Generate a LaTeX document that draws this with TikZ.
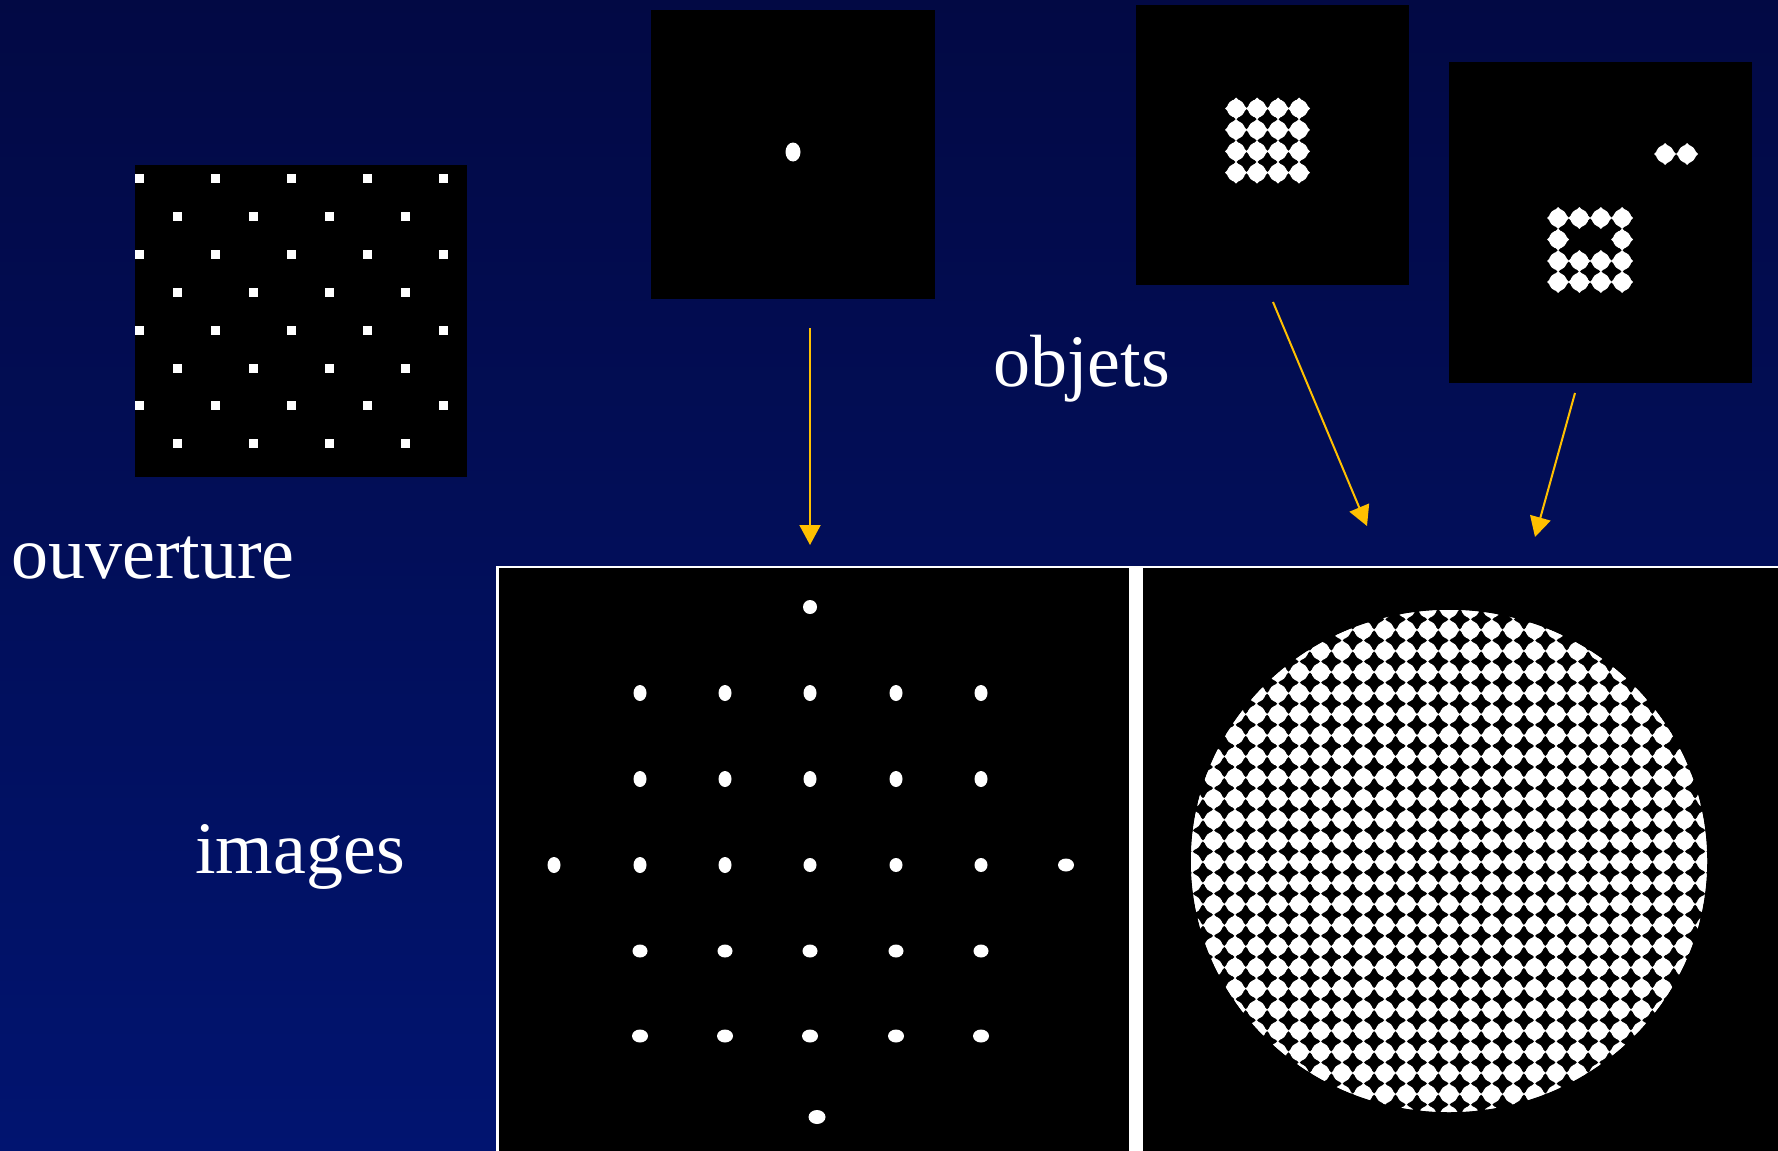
\documentclass[tikz,border=0pt]{standalone}
\usepackage{fontspec}
\setmainfont{Liberation Serif}
\usetikzlibrary{arrows.meta}
\definecolor{bgtop}{RGB}{2,9,68}
\definecolor{bgbot}{RGB}{1,20,112}
\definecolor{arrowgold}{RGB}{255,192,0}
\tikzset{
  imgbox/.style={fill=black, draw=none, inner sep=0pt, outer sep=0pt, anchor=north west},
  lbl/.style={text=white, inner sep=0pt, anchor=base west, font=\fontsize{74}{88}\selectfont},
  conn/.style={draw=arrowgold, line width=2pt, -{Triangle[length=20pt,width=21pt]}},
  blob/.pic={
    \fill[white] (0,0) circle[radius=9];
    \fill[white] (-11,0) -- (0,-11) -- (11,0) -- (0,11) -- cycle;
  }
}
\begin{document}
\begin{tikzpicture}[x=1pt,y=-1pt]
\useasboundingbox (0,0) rectangle (1778,1151);
\shade[top color=bgtop, bottom color=bgbot] (0,0) rectangle (1778,1151);

% aperture
\node[imgbox, minimum width=332pt, minimum height=312pt] (ap) at (135,165) {};
\foreach \r in {0,2,4,6} {
  \foreach \c in {0,...,4} {
    \fill[white] ({139.5+76*\c-4.5},{178.5+37.9*\r-4.5}) rectangle ++(9,9);
  }
}
\foreach \r in {1,3,5,7} {
  \foreach \c in {0,...,3} {
    \fill[white] ({177+76*\c-4.5},{178.5+37.9*\r-4.5}) rectangle ++(9,9);
  }
}

% object 1: point
\node[imgbox, minimum width=284pt, minimum height=289pt] (ob1) at (651,10) {};
\fill[white] (793,152) ellipse[x radius=7.5, y radius=9.5];

% object 2: 4x4 square
\node[imgbox, minimum width=273pt, minimum height=280pt] (ob2) at (1136,5) {};
\foreach \i in {0,...,3} {
  \foreach \j in {0,...,3} {
    \pic at ({1236+21*\i},{108.5+21.4*\j}) {blob};
  }
}

% object 3: square with hole + pair
\node[imgbox, minimum width=303pt, minimum height=321pt] (ob3) at (1449,62) {};
\pic at (1665,154) {blob};
\pic at (1687,154) {blob};
\foreach \i in {0,...,3} {
  \pic at ({1558+21.4*\i},218) {blob};
  \pic at ({1558+21.4*\i},261) {blob};
  \pic at ({1558+21.4*\i},282) {blob};
}
\pic at (1558,239.5) {blob};
\pic at (1622,239.5) {blob};

% image panels
\fill[white] (496,566) rectangle (1778,1151);
\node[imgbox, minimum width=630pt, minimum height=583pt] (im1) at (499,568) {};
\node[imgbox, minimum width=635pt, minimum height=583pt] (im2) at (1143,568) {};

% image 1 dots
\foreach \x in {640,725,810,896,981} {
  \fill[white] (\x,693) ellipse[x radius=6.5, y radius=8];
  \fill[white] (\x,779) ellipse[x radius=6.5, y radius=8];
  \fill[white] (\x,951) ellipse[x radius=7.5, y radius=6.5];
  \fill[white] (\x,1036) ellipse[x radius=8, y radius=6.5];
}
\foreach \x in {640,725} {
  \fill[white] (\x,865) ellipse[x radius=6.5, y radius=8];
}
\foreach \x in {810,896,981} {
  \fill[white] (\x,865) ellipse[x radius=6.5, y radius=7];
}
\fill[white] (554,865) ellipse[x radius=6.5, y radius=8];
\fill[white] (1066,865) ellipse[x radius=8, y radius=6.5];
\fill[white] (810,607) ellipse[x radius=7, y radius=7];
\fill[white] (817,1117) ellipse[x radius=8.5, y radius=7];

% image 2: disk of blobs
\begin{scope}
  \clip (1449,861) ellipse[x radius=258, y radius=251];
  \foreach \i in {-13,...,13} {
    \foreach \j in {-13,...,13} {
      \pic at ({1449+21.4*\i},{862+21.1*\j}) {blob};
    }
  }
\end{scope}

% labels
\node[lbl] (tov) at (11,578) {ouverture};
\node[lbl] (tob) at (993,386) {objets};
\node[lbl] (tim) at (195,873) {images};

% connectors
\coordinate (a1s) at (810,328);
\coordinate (a1e) at (810,545);
\coordinate (a2s) at (1273,302);
\coordinate (a2e) at (1367,526);
\coordinate (a3s) at (1575,393);
\coordinate (a3e) at (1535,537);
\draw[conn] (a1s) -- (a1e);
\draw[conn] (a2s) -- (a2e);
\draw[conn] (a3s) -- (a3e);
\end{tikzpicture}
\end{document}
